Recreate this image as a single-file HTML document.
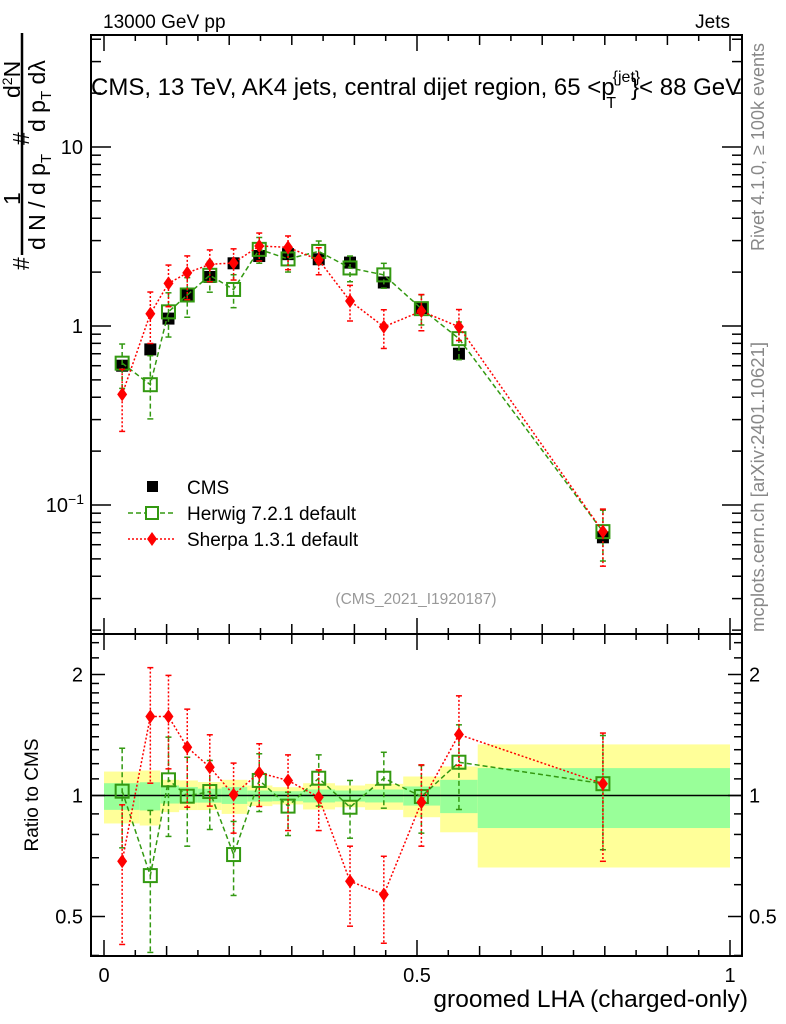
<!DOCTYPE html>
<html><head><meta charset="utf-8"><style>
html,body{margin:0;padding:0;background:#fff;}
svg{display:block;font-family:"Liberation Sans",sans-serif;}
</style></head><body>
<svg id="chart" width="786" height="1024" viewBox="0 0 786 1024" xmlns="http://www.w3.org/2000/svg">
<g id="bands"></g>
<g id="marks"></g>
<g id="axes"></g>
<g id="labels">
<text x="103" y="28" font-size="19">13000 GeV pp</text>
<text x="730" y="28" font-size="19" text-anchor="end">Jets</text>
<text x="91" y="95" font-size="24">CMS, 13 TeV, AK4 jets, central dijet region, 65 &lt;p<tspan font-size="16" dx="-2" dy="-13">{jet}</tspan><tspan font-size="16" dx="-34" dy="26">T</tspan><tspan dx="15" dy="-13">}&lt; 88 GeV</tspan></text>
<text x="416" y="604" font-size="15.5" fill="#999" text-anchor="middle">(CMS_2021_I1920187)</text>
<text transform="translate(764,251) rotate(-90)" font-size="18" fill="#888">Rivet 4.1.0, ≥ 100k events</text>
<text transform="translate(764,632) rotate(-90)" font-size="18.5" fill="#888">mcplots.cern.ch [arXiv:2401.10621]</text>
<text x="748" y="1007" font-size="24.5" text-anchor="end">groomed LHA (charged-only)</text>
<text transform="translate(38,795) rotate(-90)" font-size="19" text-anchor="middle">Ratio to CMS</text>
<g font-size="23">
<line x1="22" y1="255" x2="22" y2="33" stroke="#000" stroke-width="2.5"/>
<text transform="translate(29,270) rotate(-90)">#</text>
<text transform="translate(20,205) rotate(-90)">1</text>
<text transform="translate(45,250) rotate(-90)">d N / d p<tspan font-size="15" dy="6">T</tspan></text>
<text transform="translate(29,145) rotate(-90)">#</text>
<text transform="translate(20,98) rotate(-90)">d<tspan font-size="14" dy="-8">2</tspan><tspan dy="8">N</tspan></text>
<text transform="translate(45,132) rotate(-90)">d p<tspan font-size="15" dy="6">T</tspan><tspan dy="-6"> dλ</tspan></text>
</g>
<g font-size="19">
<rect x="147" y="481" width="11" height="11" fill="#000"/>
<text x="187" y="494">CMS</text>
<line x1="128" y1="513" x2="176" y2="513" stroke="#339911" stroke-width="1.5" stroke-dasharray="5,3"/>
<rect x="146" y="507" width="12" height="12" fill="#fff" stroke="#339911" stroke-width="2"/>
<text x="187" y="520">Herwig 7.2.1 default</text>
<line x1="128" y1="539" x2="176" y2="539" stroke="#f00" stroke-width="1.5" stroke-dasharray="2,2"/>
<path d="M152 532 L157 539 L152 546 L147 539 Z" fill="#f00"/>
<text x="187" y="546">Sherpa 1.3.1 default</text>
</g>
</g>
</svg>
<script>
const xCenters = [0.029,0.074,0.103,0.133,0.169,0.207,0.248,0.294,0.343,0.393,0.447,0.507,0.567,0.797];
const binEdges = [0,0.057,0.09,0.12,0.15,0.188,0.229,0.269,0.318,0.369,0.417,0.478,0.537,0.597,1.0];
const cmsValues = [0.6,0.74,1.1,1.5,1.88,2.24,2.46,2.52,2.36,2.26,1.75,1.26,0.7,0.066];
const herwigValues = [0.62,0.47,1.2,1.49,1.92,1.6,2.68,2.37,2.61,2.11,1.93,1.25,0.85,0.071];
const sherpaValues = [0.415,1.17,1.73,1.98,2.21,2.25,2.8,2.75,2.34,1.38,0.99,1.21,0.99,0.071];
const herwigRatio = [1.025,0.632,1.094,0.996,1.023,0.713,1.09,0.941,1.104,0.935,1.104,0.994,1.21,1.07];
const herwigRatioUp = [1.311,0.918,1.397,1.245,1.222,0.862,1.27,1.019,1.262,1.09,1.281,1.188,1.499,1.41];
const herwigRatioDn = [0.741,0.407,0.791,0.748,0.823,0.564,0.912,0.795,0.941,0.783,0.93,0.806,0.923,0.733];
const sherpaRatio = [0.686,1.572,1.572,1.318,1.176,1.004,1.139,1.09,0.99,0.612,0.567,0.962,1.418,1.07];
const sherpaRatioUp = [0.948,2.08,1.99,1.64,1.416,1.204,1.345,1.262,1.158,0.748,0.706,1.192,1.77,1.43];
const sherpaRatioDn = [0.426,1.073,1.165,0.935,0.941,0.806,0.939,0.818,0.818,0.473,0.429,0.748,1.188,0.686];
const yellowUp = [1.147,1.154,1.094,1.09,1.08,1.094,1.059,1.049,1.073,1.059,1.069,1.115,1.181,1.34];
const yellowDn = [0.852,0.842,0.909,0.92,0.92,0.9,0.941,0.95,0.923,0.935,0.921,0.883,0.81,0.662];
const greenUp = [1.073,1.079,1.059,1.05,1.04,1.049,1.029,1.025,1.035,1.029,1.035,1.053,1.094,1.17];
const greenDn = [0.921,0.918,0.955,0.96,0.96,0.953,0.966,0.968,0.961,0.966,0.961,0.944,0.904,0.83];
const mainTickLabels = ["10^-1","1","10"];
const ratioTickLabels = ["0.5","1","2"];
const xTickLabels = ["0","0.5","1"];

const NS="http://www.w3.org/2000/svg";
const L=91,R=742,T=35,M=634,B=956;
const X=v=>104+626*v;
const YM=v=>326-179*Math.log10(v);
const YR=v=>795.5-121*Math.log2(v);
function mk(tag,attrs,parent){const e=document.createElementNS(NS,tag);for(const k in attrs)e.setAttribute(k,attrs[k]);parent.appendChild(e);return e;}
const bands=document.getElementById('bands'),marks=document.getElementById('marks'),axes=document.getElementById('axes');

for(let i=0;i<xCenters.length;i++){
  const x1=X(binEdges[i]),x2=X(binEdges[i+1]);
  const y=mk('rect',{x:x1,y:YR(yellowUp[i]),width:x2-x1,height:YR(yellowDn[i])-YR(yellowUp[i]),fill:'#ffff99'},bands);
  
  
  const g=mk('rect',{x:x1,y:YR(greenUp[i]),width:x2-x1,height:YR(greenDn[i])-YR(greenUp[i]),fill:'#99ff99'},bands);
  
  
}
const one=mk('line',{x1:L,x2:R,y1:YR(1),y2:YR(1),stroke:'#000','stroke-width':1.5},bands);



function series(vals,ups,dns,Y,color,dash,kind,name,drawLine){
  const g=mk('g',{},marks);
  
  
  if(drawLine){
    const pts=vals.map((v,i)=>X(xCenters[i])+','+Y(v)).join(' ');
    mk('polyline',{points:pts,fill:'none',stroke:color,'stroke-width':1.5,'stroke-dasharray':dash},g);
  }
  vals.forEach((v,i)=>{
    const x=X(xCenters[i]);
    if(ups){
      const yu=Y(ups[i]),yd=Y(dns[i]);
      mk('line',{x1:x,x2:x,y1:yu,y2:yd,stroke:color,'stroke-width':1.5,'stroke-dasharray':dash},g);
      mk('line',{x1:x-3,x2:x+3,y1:yu,y2:yu,stroke:color,'stroke-width':1.5},g);
      mk('line',{x1:x-3,x2:x+3,y1:yd,y2:yd,stroke:color,'stroke-width':1.5},g);
    }
    const y=Y(v);let m;
    if(kind==='sq') m=mk('rect',{x:x-6,y:y-6,width:12,height:12,fill:'#000'},g);
    else if(kind==='open') m=mk('rect',{x:x-6.5,y:y-6.5,width:13,height:13,fill:'none',stroke:color,'stroke-width':2},g);
    else m=mk('path',{d:`M${x} ${y-7} L${x+5} ${y} L${x} ${y+7} L${x-5} ${y} Z`,fill:color},g);
    
    
  });
}
const hUpM=herwigValues.map((v,i)=>v*herwigRatioUp[i]/herwigRatio[i]);
const hDnM=herwigValues.map((v,i)=>v*herwigRatioDn[i]/herwigRatio[i]);
const sUpM=sherpaValues.map((v,i)=>v*sherpaRatioUp[i]/sherpaRatio[i]);
const sDnM=sherpaValues.map((v,i)=>v*sherpaRatioDn[i]/sherpaRatio[i]);
series(cmsValues,null,null,YM,'#000','none','sq','cms-main',false);
series(herwigValues,hUpM,hDnM,YM,'#339911','5,3','open','herwig-main',true);
series(sherpaValues,sUpM,sDnM,YM,'#ff0000','2,2','dia','sherpa-main',true);
series(herwigRatio,herwigRatioUp,herwigRatioDn,YR,'#339911','5,3','open','herwig-ratio',true);
series(sherpaRatio,sherpaRatioUp,sherpaRatioDn,YR,'#ff0000','2,2','dia','sherpa-ratio',true);

const f1=mk('rect',{x:L,y:T,width:R-L,height:M-T,fill:'none',stroke:'#000','stroke-width':2},axes);


const f2=mk('rect',{x:L,y:M,width:R-L,height:B-M,fill:'none',stroke:'#000','stroke-width':2},axes);


function tick(x1,y1,x2,y2){mk('line',{x1,y1,x2,y2,stroke:'#000','stroke-width':1.5},axes);}
for(let k=0;k<=20;k++){const v=k*0.05,x=X(v);const len=k%10===0?16:(k%2===0?10:6);
  [[B,-1],[M,1],[M,-1],[T,1]].forEach(([y0,d])=>tick(x,y0,x,y0+d*len));}
xTickLabels.forEach(t=>{const v=parseFloat(t);const e=mk('text',{x:X(v),y:982,'font-size':20,'text-anchor':'middle'},axes);e.textContent=t;
  
  });
for(let d=-2;d<=1;d++)for(let m=1;m<10;m++){const v=m*Math.pow(10,d),y=YM(v);if(y<T||y>M)continue;
  const len=m===1?20:10;tick(L,y,L+len,y);tick(R,y,R-len,y);}
mainTickLabels.forEach(t=>{const v=t==="10^-1"?0.1:parseFloat(t);const y=YM(v);
  const e=mk('text',{x:83,y:y+7,'font-size':20,'text-anchor':'end'},axes);
  
  
  if(t==="10^-1"){e.setAttribute('x',84);e.innerHTML='10<tspan font-size="14" dy="-8">−1</tspan>';}else e.textContent=t;});
const rt=[0.4,0.5,0.6,0.7,0.8,0.9,1,1.1,1.2,1.3,1.4,1.5,1.6,1.7,1.8,1.9,2,2.2,2.4];
rt.forEach(v=>{const y=YR(v);if(y<M||y>B)return;const len=(v===0.5||v===1||v===2)?14:8;tick(L,y,L+len,y);tick(R,y,R-len,y);});
ratioTickLabels.forEach(t=>{const y=YR(parseFloat(t));
  const a=mk('text',{x:83,y:y+7,'font-size':20,'text-anchor':'end'},axes);a.textContent=t;
  
  
  const b=mk('text',{x:749,y:y+7,'font-size':20},axes);b.textContent=t;
  
  });
</script>
</body></html>
